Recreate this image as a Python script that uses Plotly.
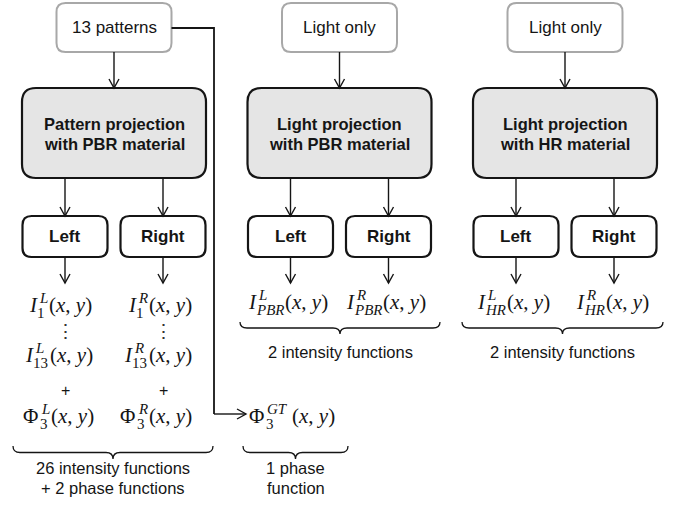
import plotly.graph_objects as go

# ---------------- content ----------------
top_labels = ["13 patterns", "Light only", "Light only"]
main_line1 = ["Pattern projection", "Light projection", "Light projection"]
main_line2 = ["with PBR material", "with PBR material", "with HR material"]
side_labels = ["Left", "Right"]
summary_labels = ["26 intensity functions<br>+ 2 phase functions", "1 phase<br>function",
                  "2 intensity functions", "2 intensity functions"]

f_main = ["I", "I", "I", "I", "Φ", "Φ", "Φ", "I", "I", "I", "I"]
f_sub = ["1", "1", "13", "13", "3", "3", "3", "PBR", "PBR", "HR", "HR"]
f_sup = ["L", "R", "L", "R", "L", "R", "GT", "L", "R", "L", "R"]

# ---------------- layout geometry ----------------
W, H = 681, 505
col_cx = [114, 339.5, 565]
top_w, top_y0, top_y1 = 115, 3, 52
big_w, big_y0, big_y1 = 184, 88, 178
side_off, side_w, side_y0, side_y1 = 49, 85, 216, 257
f_left = [29, 128, 25, 124, 23, 120, 249, 248, 346, 477, 576]
f_cy = [305, 305, 355, 355, 416, 416, 416, 302, 302, 302, 302]
braces = [(13, 213, 446, 13), (243, 348, 446, 13), (240, 440, 322, 12), (462, 663, 322, 12)]
summary_pos = [(113, 468), (295.5, 468), (340, 352), (562, 352)]

SANS = "Liberation Sans, Arial, sans-serif"
SERIF = "Liberation Serif, Times New Roman, serif"
INK = "#151515"

shapes = []
annotations = []


def rrect(x0, y0, x1, y1, r, fill, line, lw):
    p = (f"M{x0+r},{y0} L{x1-r},{y0} Q{x1},{y0} {x1},{y0+r} L{x1},{y1-r} Q{x1},{y1} {x1-r},{y1} "
         f"L{x0+r},{y1} Q{x0},{y1} {x0},{y1-r} L{x0},{y0+r} Q{x0},{y0} {x0+r},{y0} Z")
    shapes.append(dict(type="path", path=p, fillcolor=fill, line=dict(color=line, width=lw),
                       xref="x", yref="y", layer="below"))


def seg(pts, lw=1.4, color=INK):
    p = "M" + " L".join(f"{x},{y}" for x, y in pts)
    shapes.append(dict(type="path", path=p, line=dict(color=color, width=lw), xref="x", yref="y"))


def arrow_down(x, y0, y1):
    seg([(x, y0), (x, y1)])
    seg([(x - 5, y1 - 9), (x, y1), (x + 5, y1 - 9)])


def arrow_right(x0, x1, y):
    seg([(x0, y), (x1, y)])
    seg([(x1 - 9, y - 5), (x1, y), (x1 - 9, y + 5)])


def brace(x0, x1, yt, h):
    xm = (x0 + x1) / 2
    ym = yt + h * 0.5
    yb = yt + h
    r = 7
    p = (f"M{x0},{yt} Q{x0},{ym} {x0+r},{ym} L{xm-r},{ym} Q{xm},{ym} {xm},{yb} "
         f"Q{xm},{ym} {xm+r},{ym} L{x1-r},{ym} Q{x1},{ym} {x1},{yt}")
    shapes.append(dict(type="path", path=p, line=dict(color=INK, width=1.3), xref="x", yref="y"))


def text(x, y, s, size, family=SANS, anchor="center", color=INK):
    annotations.append(dict(x=x, y=y, text=s, showarrow=False, xanchor=anchor, yanchor="middle",
                            font=dict(size=size, family=family, color=color),
                            borderpad=0, borderwidth=0, xref="x", yref="y"))


# ---- boxes ----
for i, cx in enumerate(col_cx):
    rrect(cx - top_w / 2, top_y0, cx + top_w / 2, top_y1, 9, "white", "#a8a8a8", 2)
    text(cx, (top_y0 + top_y1) / 2, top_labels[i], 17)
    arrow_down(cx, top_y1, big_y0)
    rrect(cx - big_w / 2, big_y0, cx + big_w / 2, big_y1, 14, "#e5e5e5", INK, 2.2)
    text(cx, 123.5, f"<b>{main_line1[i]}</b>", 16.5)
    text(cx, 144, f"<b>{main_line2[i]}</b>", 16.5)
    for k, sgn in enumerate((-1, 1)):
        sx = cx + sgn * side_off
        arrow_down(sx, big_y1, side_y0)
        rrect(sx - side_w / 2, side_y0, sx + side_w / 2, side_y1, 9, "white", INK, 2.2)
        text(sx, (side_y0 + side_y1) / 2, f"<b>{side_labels[k]}</b>", 17)
        arrow_down(sx, side_y1, 283)

# ---- connector from "13 patterns" to ground-truth phase ----
seg([(col_cx[0] + top_w / 2, 28), (214, 28), (214, 414)], lw=1.8)
arrow_right(214, 246, 414)

# ---- formulas ----
MAIN_W = {"I": 7.0, "Φ": 15.5}
SUB_W = {"1": 7.5, "13": 15, "3": 7.5, "PBR": 27.5, "HR": 20}
SUP_W = {"L": 8.3, "R": 9.2, "GT": 19.5}
for i in range(len(f_main)):
    x = f_left[i]
    cy = f_cy[i]
    m = f_main[i]
    mtxt = f"<i>{m}</i>" if m == "I" else m
    text(x, cy, mtxt, 21, SERIF, "left")
    sub_x = x + MAIN_W[m] + (0.5 if m == "I" else 1.5)
    sup_x = sub_x + (2.0 if m == "I" else 1.0)
    stxt = f_sub[i] if f_sub[i].isdigit() else f"<i>{f_sub[i]}</i>"
    text(sub_x, cy + 7.5, stxt, 15, SERIF, "left")
    text(sup_x, cy - 7.5, f"<i>{f_sup[i]}</i>", 15, SERIF, "left")
    gap = 5 if len(f_sup[i]) > 1 else 2
    px = max(sub_x + SUB_W[f_sub[i]], sup_x + SUP_W[f_sup[i]]) + gap
    text(px, cy, "(<i>x</i>, <i>y</i>)", 21, SERIF, "left")

# dots and plus signs in the first column
for sx in (col_cx[0] - side_off, col_cx[0] + side_off):
    text(sx, 331, "⋮", 19, "DejaVu Serif", color="#333333")
    text(sx, 390, "+", 16, SANS)

# ---- braces and summaries ----
for (x0, x1, yt, h) in braces:
    brace(x0, x1, yt, h)
for (x, y), s in zip(summary_pos, summary_labels):
    if "<br>" in s:
        a, b = s.split("<br>")
        text(x, y, a, 16.5)
        text(x, y + 20, b, 16.5)
    else:
        text(x, y, s, 16.5)

fig = go.Figure()
fig.update_layout(
    width=W, height=H, autosize=False,
    margin=dict(l=0, r=0, t=0, b=0),
    paper_bgcolor="white", plot_bgcolor="white",
    xaxis=dict(range=[0, W], visible=False, fixedrange=True),
    yaxis=dict(range=[H, 0], visible=False, fixedrange=True),
    shapes=shapes, annotations=annotations, showlegend=False,
)
fig.write_html("out.html", config={"displayModeBar": False},
               post_script="document.body.style.margin='0';document.body.style.overflow='hidden';")
